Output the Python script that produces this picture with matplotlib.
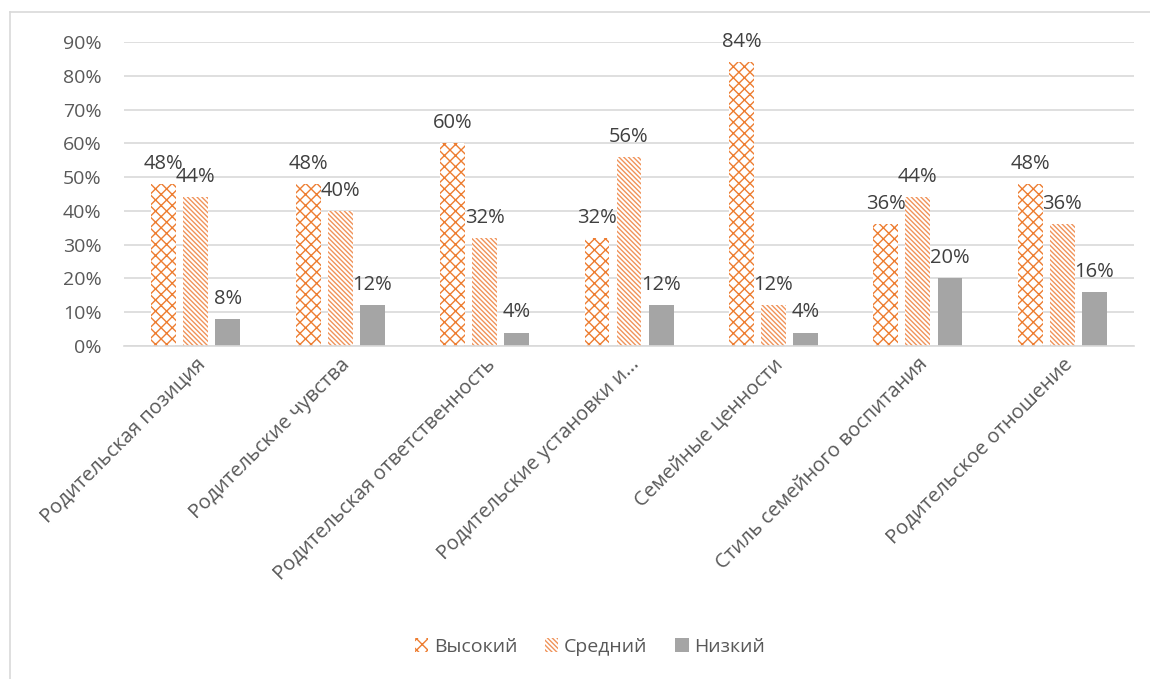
import matplotlib.pyplot as plt
import numpy as np
from matplotlib.lines import Line2D

plt.rcParams['font.family'] = ['Open Sans', 'DejaVu Sans']
plt.rcParams['hatch.linewidth'] = 1.0

categories = ['Родительская позиция', 'Родительские чувства',
              'Родительская ответственность', 'Родительские установки и...',
              'Семейные ценности', 'Стиль семейного воспитания',
              'Родительское отношение']
high = [0.48, 0.48, 0.60, 0.32, 0.84, 0.36, 0.48]
mid = [0.44, 0.40, 0.32, 0.56, 0.12, 0.44, 0.36]
low = [0.08, 0.12, 0.04, 0.12, 0.04, 0.20, 0.16]
yticks = np.arange(0, 1.0, 0.1)

orange = '#ED7D31'
gray = '#A5A5A5'
text_col = '#595959'

fig = plt.figure(figsize=(11.5, 6.79), dpi=100)
ax = fig.add_axes([0.1075, 0.4904, 0.879, 0.4476])

x = np.arange(len(categories))
w = 0.172
step = 0.222

b1 = ax.bar(x - step, high, w, color='white', edgecolor=orange, hatch='xxx', linewidth=0, label='Высокий')
b2 = ax.bar(x, mid, w, color='white', edgecolor='#F0935A', hatch='\\' * 7, linewidth=0, label='Средний')
b3 = ax.bar(x + step, low, w, color=gray, edgecolor=gray, linewidth=0, label='Низкий')

for bars, vals in ((b1, high), (b2, mid), (b3, low)):
    for bar, v in zip(bars, vals):
        ax.text(bar.get_x() + bar.get_width() / 2, v + 0.03, f'{round(v * 100)}%',
                ha='center', va='bottom', fontsize=14.5, color='#404040')

ax.set_xlim(-0.5, len(categories) - 0.5)
ax.set_ylim(0, 0.9)
ax.set_yticks(yticks)
ax.set_yticklabels([f'{round(t * 100)}%' for t in yticks], fontsize=14, color=text_col)
ax.set_xticks(x)
ax.set_xticklabels(categories, rotation=45, ha='right', rotation_mode='anchor',
                   fontsize=14.5, color=text_col)
ax.tick_params(axis='both', length=0)
ax.tick_params(axis='x', pad=6)
ax.tick_params(axis='y', pad=16)
ax.grid(axis='y', color='#D9D9D9', linewidth=1.2)
ax.set_axisbelow(True)
for s in ['top', 'right', 'left']:
    ax.spines[s].set_visible(False)
ax.spines['bottom'].set_color('#D9D9D9')
ax.spines['bottom'].set_linewidth(1.2)

fig.legend(handles=[b1, b2, b3], loc='center', bbox_to_anchor=(0.513, 0.047), ncol=3,
           frameon=False, fontsize=14, labelcolor=text_col, handlelength=0.7,
           handleheight=0.7, columnspacing=1.4, handletextpad=0.3)

# chart frame
fig.add_artist(Line2D([0.009, 0.009], [0.0, 0.982], color='#D9D9D9', linewidth=1.2))
fig.add_artist(Line2D([0.009, 1.0], [0.982, 0.982], color='#D9D9D9', linewidth=1.2))

fig.savefig('out.png', dpi=100, facecolor='white')
